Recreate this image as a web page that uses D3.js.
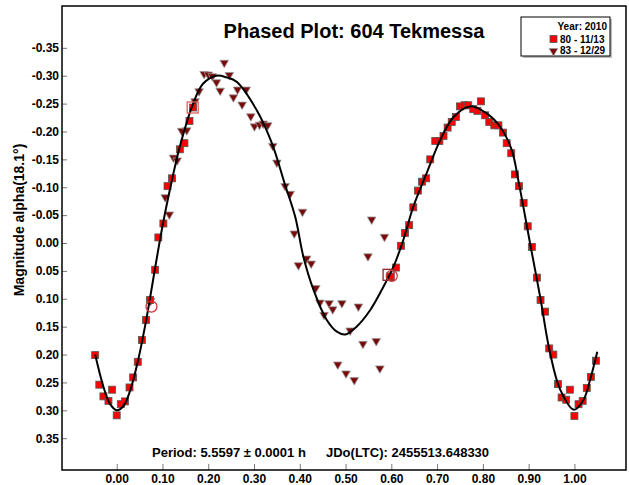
<!DOCTYPE html>
<html>
<head>
<meta charset="utf-8">
<script src="https://cdn.jsdelivr.net/npm/d3@7"></script>
<style>
  body { margin: 0; background: #fff; }
  svg { display: block; font-family: "Liberation Sans", Arial, sans-serif; }
  .axis text { font-size: 12px; font-weight: bold; fill: #000; }
  .axis line { stroke: #777; }
  .axis path { display: none; }
</style>
</head>
<body>
<div id="graph"></div>
<script>
// Data (phase, magnitude)
const xTicks = [0, 0.1, 0.2, 0.3, 0.4, 0.5, 0.6, 0.7, 0.8, 0.9, 1.0];
const yTicks = [-0.35, -0.30, -0.25, -0.20, -0.15, -0.10, -0.05, 0, 0.05, 0.10, 0.15, 0.20, 0.25, 0.30, 0.35];

// Fourier fit curve
const fitCurve = [
  [-0.047, 0.200], [-0.030, 0.255], [-0.015, 0.288], [0.000, 0.300], [0.015, 0.292],
  [0.030, 0.263], [0.046, 0.213], [0.064, 0.140], [0.087, 0.030], [0.100, -0.030],
  [0.116, -0.095], [0.138, -0.173], [0.167, -0.250], [0.189, -0.286], [0.218, -0.300],
  [0.240, -0.297], [0.262, -0.289], [0.306, -0.238], [0.339, -0.179], [0.368, -0.104],
  [0.390, -0.047], [0.408, 0.025], [0.430, 0.084], [0.459, 0.138], [0.481, 0.159],
  [0.499, 0.164], [0.524, 0.150], [0.554, 0.120], [0.583, 0.078], [0.605, 0.042],
  [0.626, -0.005], [0.648, -0.065], [0.677, -0.125], [0.707, -0.185], [0.736, -0.226],
  [0.772, -0.245], [0.809, -0.232], [0.838, -0.208], [0.863, -0.167], [0.878, -0.110],
  [0.903, 0.000], [0.925, 0.096], [0.947, 0.198], [0.969, 0.263], [0.999, 0.299],
  [1.020, 0.281], [1.034, 0.246], [1.050, 0.195]
];

// Session 80 - 11/13 (red squares)
const session80 = [
  [-0.047, 0.201], [-0.038, 0.254], [-0.029, 0.275], [-0.018, 0.283], [-0.010, 0.263],
  [0.000, 0.309], [0.009, 0.289], [0.018, 0.284], [0.028, 0.259], [0.036, 0.241],
  [0.046, 0.213], [0.055, 0.174], [0.064, 0.138], [0.073, 0.102], [0.084, 0.048],
  [0.091, -0.010], [0.102, -0.035], [0.111, -0.102], [0.121, -0.116], [0.138, -0.168],
  [0.148, -0.179], [0.159, -0.219], [0.167, -0.243],
  [0.597, 0.060], [0.610, 0.044], [0.621, 0.005], [0.630, -0.018], [0.639, -0.032],
  [0.648, -0.064], [0.658, -0.094], [0.667, -0.110], [0.676, -0.116], [0.685, -0.150],
  [0.696, -0.183], [0.705, -0.183], [0.714, -0.192], [0.723, -0.207], [0.732, -0.217],
  [0.741, -0.226], [0.750, -0.245], [0.760, -0.247], [0.768, -0.247], [0.779, -0.240],
  [0.788, -0.237], [0.796, -0.254], [0.805, -0.229], [0.814, -0.217], [0.825, -0.211],
  [0.834, -0.211], [0.844, -0.198], [0.852, -0.179], [0.862, -0.161], [0.870, -0.123],
  [0.879, -0.102], [0.889, -0.072], [0.898, -0.030], [0.907, 0.007], [0.918, 0.062],
  [0.926, 0.102], [0.936, 0.123], [0.945, 0.189], [0.954, 0.200], [0.964, 0.253],
  [0.972, 0.277], [0.982, 0.281], [0.990, 0.263], [1.000, 0.310], [1.009, 0.289],
  [1.018, 0.283], [1.027, 0.260], [1.036, 0.240], [1.047, 0.211]
];

// Session 83 - 12/29 (dark red triangles)
const session83 = [
  [0.074, 0.102], [0.106, -0.084], [0.115, -0.053], [0.124, -0.155], [0.132, -0.150],
  [0.142, -0.203], [0.153, -0.204], [0.171, -0.256], [0.180, -0.274], [0.191, -0.305],
  [0.200, -0.304], [0.209, -0.301], [0.218, -0.290], [0.226, -0.275], [0.235, -0.325],
  [0.246, -0.303], [0.255, -0.263], [0.264, -0.277], [0.274, -0.250], [0.283, -0.277],
  [0.293, -0.229], [0.301, -0.211], [0.312, -0.214], [0.320, -0.216], [0.330, -0.213],
  [0.341, -0.176], [0.350, -0.146], [0.368, -0.104], [0.379, -0.090], [0.388, -0.019],
  [0.397, 0.038], [0.406, -0.058], [0.415, 0.026], [0.425, 0.035], [0.435, 0.079],
  [0.444, 0.105], [0.453, 0.127], [0.464, 0.106], [0.472, 0.117], [0.483, 0.216],
  [0.492, 0.106], [0.501, 0.232], [0.510, 0.155], [0.519, 0.244], [0.528, 0.112],
  [0.538, 0.179], [0.549, 0.022], [0.557, -0.044], [0.567, 0.174], [0.575, 0.223],
  [0.585, -0.013]
];

// Highlighted (open) markers
const openSquares = [[0.166, -0.243, "#e06060"], [0.594, 0.057, "#8b2a2a"]];
const openCircles = [[0.076, 0.114], [0.601, 0.059]];

const legendRows = [
  { label: "80 - 11/13", shape: "square" },
  { label: "83 - 12/29", shape: "triangle" }
];

const width = 629;
const height = 485;
const frame = { left: 62, right: 626, top: 6, bottom: 470 };

const svg = d3.select("#graph")
  .append("svg")
  .attr("width", width)
  .attr("height", height);

// Scales
const x = d3.scaleLinear()
  .domain([-0.1195, 1.1127])
  .range([frame.left, frame.right]);

const y = d3.scaleLinear()
  .domain([-0.425, 0.407])
  .range([frame.top, frame.bottom]);

// Axes (ticks point inward)
svg.append("g")
  .attr("class", "axis")
  .attr("transform", `translate(${frame.left},0)`)
  .call(d3.axisLeft(y)
    .tickValues(yTicks)
    .tickSize(-5)
    .tickPadding(3)
    .tickFormat(d => d.toFixed(2)));

svg.append("g")
  .attr("class", "axis")
  .attr("transform", `translate(0,${frame.bottom})`)
  .call(d3.axisBottom(x)
    .tickValues(xTicks)
    .tickSize(-6)
    .tickPadding(4)
    .tickFormat(d => d.toFixed(2)));

// Frame
svg.append("rect")
  .attr("x", frame.left)
  .attr("y", frame.top)
  .attr("width", frame.right - frame.left)
  .attr("height", frame.bottom - frame.top)
  .attr("fill", "none")
  .attr("stroke", "#000")
  .attr("stroke-width", 1.5);

// Fit curve
const line = d3.line()
  .x(d => x(d[0]))
  .y(d => y(d[1]))
  .curve(d3.curveCatmullRom.alpha(0.5));

// Triangles
const triPath = d3.symbol().type(d3.symbolTriangle).size(32)();
svg.append("g")
  .selectAll("path")
  .data(session83)
  .join("path")
  .attr("d", triPath)
  .attr("transform", d => `translate(${x(d[0])},${y(d[1]) + 1}) rotate(180)`)
  .attr("fill", "#7a0a0a")
  .attr("stroke", "#999")
  .attr("stroke-width", 0.8);

// Squares
const sq = 7;
svg.append("g")
  .selectAll("rect")
  .data(session80)
  .join("rect")
  .attr("x", d => x(d[0]) - sq / 2)
  .attr("y", d => y(d[1]) - sq / 2)
  .attr("width", sq)
  .attr("height", sq)
  .attr("fill", "#ff0000")
  .attr("stroke", "#555")
  .attr("stroke-width", 0.8);

svg.append("path")
  .datum(fitCurve)
  .attr("fill", "none")
  .attr("stroke", "#000")
  .attr("stroke-width", 2)
  .attr("d", line);

// Open highlight markers
svg.append("g")
  .selectAll("rect")
  .data(openSquares)
  .join("rect")
  .attr("x", d => x(d[0]) - 5.5)
  .attr("y", d => y(d[1]) - 5.5)
  .attr("width", 11)
  .attr("height", 11)
  .attr("fill", "none")
  .attr("stroke", d => d[2])
  .attr("stroke-width", 1.3);

svg.append("g")
  .selectAll("circle")
  .data(openCircles)
  .join("circle")
  .attr("cx", d => x(d[0]))
  .attr("cy", d => y(d[1]))
  .attr("r", 5.5)
  .attr("fill", "none")
  .attr("stroke", "#c83a3a")
  .attr("stroke-width", 1.3);

// Title
svg.append("text")
  .attr("x", 354)
  .attr("y", 38)
  .attr("text-anchor", "middle")
  .attr("font-size", "20px")
  .attr("font-weight", "bold")
  .text("Phased Plot: 604 Tekmessa");

// Y axis label
svg.append("text")
  .attr("transform", "rotate(-90)")
  .attr("x", -220)
  .attr("y", 24)
  .attr("text-anchor", "middle")
  .attr("font-size", "14px")
  .attr("font-weight", "bold")
  .text("Magnitude alpha(18.1°)");

// Period / epoch text
svg.append("text")
  .attr("x", 152)
  .attr("y", 457)
  .attr("font-size", "13px")
  .attr("font-weight", "bold")
  .text("Period: 5.5597 ± 0.0001 h");

svg.append("text")
  .attr("x", 326)
  .attr("y", 457)
  .attr("font-size", "13px")
  .attr("font-weight", "bold")
  .text("JDo(LTC): 2455513.648330");

// Legend
const lg = svg.append("g").attr("transform", "translate(521,17)");
lg.append("rect")
  .attr("x", 2).attr("y", 2)
  .attr("width", 89).attr("height", 39)
  .attr("fill", "#bbb");
lg.append("rect")
  .attr("width", 89).attr("height", 39)
  .attr("fill", "#fff")
  .attr("stroke", "#000")
  .attr("stroke-width", 1);
lg.append("text")
  .attr("x", 86).attr("y", 13)
  .attr("text-anchor", "end")
  .attr("font-size", "10px")
  .attr("font-weight", "bold")
  .text("Year: 2010");

const rows = lg.selectAll("g.row")
  .data(legendRows)
  .join("g")
  .attr("class", "row")
  .attr("transform", (d, i) => `translate(0,${22 + i * 11})`);

rows.each(function(d) {
  const r = d3.select(this);
  if (d.shape === "square") {
    r.append("rect")
      .attr("x", 29).attr("y", -3.5)
      .attr("width", 7).attr("height", 7)
      .attr("fill", "#ff0000")
      .attr("stroke", "#555")
      .attr("stroke-width", 0.8);
  } else {
    r.append("path")
      .attr("d", triPath)
      .attr("transform", "translate(32.5,1) rotate(180)")
      .attr("fill", "#7a0a0a")
      .attr("stroke", "#999")
      .attr("stroke-width", 0.8);
  }
  r.append("text")
    .attr("x", 39)
    .attr("y", 4)
    .attr("font-size", "10px")
    .attr("font-weight", "bold")
    .text(d.label);
});
</script>
</body>
</html>
